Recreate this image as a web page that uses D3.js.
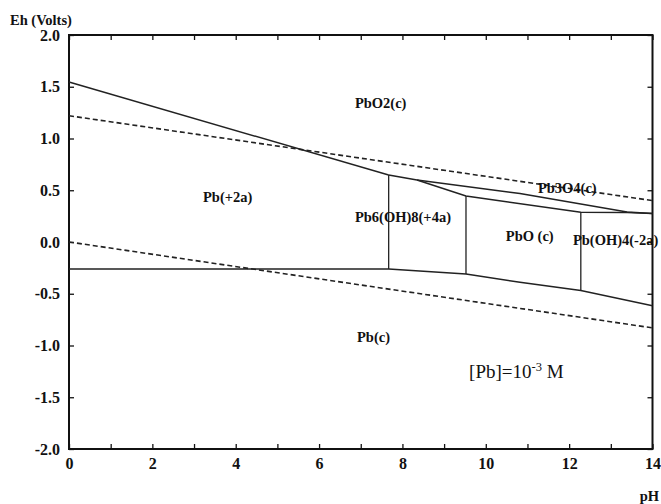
<!DOCTYPE html>
<html>
<head>
<meta charset="utf-8">
<script src="https://cdn.jsdelivr.net/npm/d3@7"></script>
<style>
  body { margin: 0; background: #fff; }
  text { font-family: "Liberation Serif", "Times New Roman", serif; }
</style>
</head>
<body>
<svg id="drawing_region"></svg>
<script>
// boundaries of the Pb-H2O Eh-pH diagram, [pH, Eh]
const pb2_pbo2 = [[0, 1.546], [7.67, 0.647]];
const pb6_pbo2 = [[7.67, 0.647], [8.35, 0.599]];
const pbo2_pb3o4 = [[8.35, 0.599], [10.82, 0.469], [13.39, 0.290], [14, 0.275]];
const pb3o4_low = [[8.35, 0.599], [9.525, 0.444], [12.28, 0.287], [13.39, 0.285], [14, 0.275]];
const pb_low = [[0, -0.261], [7.67, -0.261], [9.525, -0.309], [10.82, -0.390], [12.28, -0.469], [14, -0.616]];
const verticals = [[7.67, -0.261, 0.647], [9.525, -0.309, 0.444], [12.28, -0.469, 0.287]];
// water stability lines
const o2_h2o = [[0, 1.22], [14, 0.40]];
const h2_h2o = [[0, 0.0], [14, -0.83]];

const field_labels = [
    {text: "PbO2(c)", ph: 6.86, eh: 1.295},
    {text: "Pb(+2a)", ph: 3.215, eh: 0.386},
    {text: "Pb6(OH)8(+4a)", ph: 6.86, eh: 0.193},
    {text: "PbO (c)", ph: 10.48, eh: 0.010},
    {text: "Pb(OH)4(-2a)", ph: 12.09, eh: -0.029},
    {text: "Pb3O4(c)", ph: 11.25, eh: 0.473},
    {text: "Pb(c)", ph: 6.91, eh: -0.966},
];

const x_ticks = d3.range(0, 15, 1);
const y_ticks = [-2.0, -1.5, -1.0, -0.5, 0.0, 0.5, 1.0, 1.5, 2.0];

var config = {
    width: 661,
    height: 504,
    margin: {top: 35, right: 8.5, bottom: 55, left: 69},
};

const inner_width = config.width - config.margin.left - config.margin.right;
const inner_height = config.height - config.margin.top - config.margin.bottom;

const svg = d3.select('#drawing_region')
    .attr('width', config.width)
    .attr('height', config.height);

const chart = svg.append('g')
    .attr('transform', `translate(${config.margin.left}, ${config.margin.top})`);

const xscale = d3.scaleLinear().domain([0, 14]).range([0, inner_width]);
const yscale = d3.scaleLinear().domain([-2, 2]).range([inner_height, 0]);

// axes, ticks pointing inward
chart.append('g')
    .attr('transform', `translate(0, ${inner_height})`)
    .call(d3.axisBottom(xscale).tickValues(x_ticks).tickSize(-5).tickPadding(9)
        .tickFormat(d => d % 2 == 0 ? d : ''));
chart.append('g')
    .call(d3.axisTop(xscale).tickValues(x_ticks).tickSize(-5).tickFormat(''));
chart.append('g')
    .call(d3.axisLeft(yscale).tickValues(y_ticks).tickSize(-5).tickPadding(9)
        .tickFormat(d => d.toFixed(1)));
chart.append('g')
    .attr('transform', `translate(${inner_width}, 0)`)
    .call(d3.axisRight(yscale).tickValues(y_ticks).tickSize(-5).tickFormat(''));

chart.selectAll('.domain').remove();
chart.selectAll('.tick line').attr('stroke', '#111').attr('stroke-width', 1.3);
chart.selectAll('.tick text')
    .attr('font-family', '"Liberation Serif", serif')
    .attr('font-weight', 'bold')
    .attr('font-size', 16)
    .attr('fill', '#111');

chart.append('rect')
    .attr('width', inner_width)
    .attr('height', inner_height)
    .attr('fill', 'none')
    .attr('stroke', '#111')
    .attr('stroke-width', 2);

const line = d3.line().x(d => xscale(d[0])).y(d => yscale(d[1]));

chart.selectAll('.water').data([o2_h2o, h2_h2o]).enter()
    .append('path')
    .attr('d', line)
    .attr('fill', 'none')
    .attr('stroke', '#222')
    .attr('stroke-width', 1.6)
    .attr('stroke-dasharray', '5,3');

chart.selectAll('.boundary').data([pb2_pbo2, pb6_pbo2, pbo2_pb3o4, pb3o4_low, pb_low]).enter()
    .append('path')
    .attr('d', line)
    .attr('fill', 'none')
    .attr('stroke', '#222')
    .attr('stroke-width', 1.5);

chart.selectAll('.vert').data(verticals).enter()
    .append('line')
    .attr('x1', d => xscale(d[0]))
    .attr('x2', d => xscale(d[0]))
    .attr('y1', d => yscale(d[1]))
    .attr('y2', d => yscale(d[2]))
    .attr('stroke', '#222')
    .attr('stroke-width', 1.3);

chart.selectAll('.field').data(field_labels).enter()
    .append('text')
    .attr('x', d => xscale(d.ph))
    .attr('y', d => yscale(d.eh))
    .attr('font-weight', 'bold')
    .attr('font-size', 14.5)
    .attr('fill', '#111')
    .text(d => d.text);

// concentration note
const conc = chart.append('text')
    .attr('x', xscale(9.6))
    .attr('y', yscale(-1.314))
    .attr('font-size', 19)
    .attr('fill', '#111');
conc.append('tspan').text('[Pb]=10');
conc.append('tspan').attr('font-size', 12.5).attr('dy', -7).text('-3');
conc.append('tspan').attr('dy', 7).text(' M');

// axis titles
svg.append('text')
    .attr('x', 10)
    .attr('y', 25)
    .attr('font-weight', 'bold')
    .attr('font-size', 14.5)
    .attr('fill', '#111')
    .text('Eh (Volts)');
svg.append('text')
    .attr('x', 659)
    .attr('y', 501)
    .attr('text-anchor', 'end')
    .attr('font-weight', 'bold')
    .attr('font-size', 14.5)
    .attr('fill', '#111')
    .text('pH');
</script>
</body>
</html>
